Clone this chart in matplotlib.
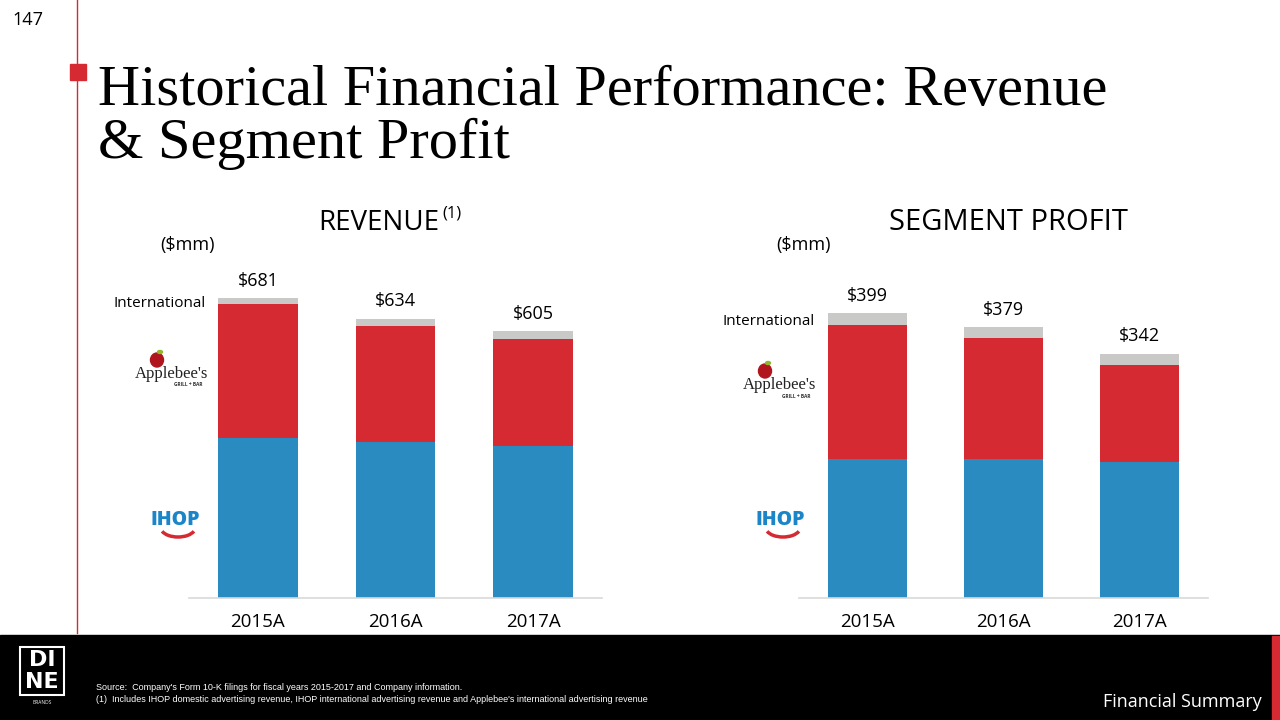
import matplotlib.pyplot as plt
from matplotlib.patches import Rectangle, Arc, Ellipse

# ---- data ($mm) ----
years = ["2015A", "2016A", "2017A"]
rev_ihop = [363, 354, 345]
rev_applebees = [304, 263, 242]
rev_intl = [14, 17, 18]
rev_total = [681, 634, 605]

sp_ihop = [195, 195, 190]
sp_applebees = [187, 169, 137]
sp_intl = [17, 15, 15]
sp_total = [399, 379, 342]

BLUE = "#2a8bc0"
RED = "#d62a33"
GRAY = "#c9c9c7"
SANS = ["Open Sans", "DejaVu Sans"]

W, H = 1280, 720


def fx(x):
    return x / W


def fy(y):
    return 1 - y / H


fig = plt.figure(figsize=(12.8, 7.2), dpi=100)
fig.patch.set_facecolor("white")


def stacked(ax_rect, ihop, appl, intl, total, ytop):
    ax = fig.add_axes(ax_rect)
    x = range(len(years))
    bottom2 = [a + b for a, b in zip(ihop, appl)]
    ax.bar(x, ihop, width=0.58, color=BLUE)
    ax.bar(x, appl, width=0.58, bottom=ihop, color=RED)
    ax.bar(x, intl, width=0.58, bottom=bottom2, color=GRAY)
    for i, t in enumerate(total):
        ax.annotate(f"${t}", (i, t), xytext=(0, 6), textcoords="offset points",
                    ha="center", va="bottom", fontsize=13, family=SANS, weight="medium")
    ax.annotate("International", (-0.29, total[0] - intl[0] / 2), xytext=(-9, -2),
                textcoords="offset points", ha="right", va="center",
                fontsize=11, family=SANS, annotation_clip=False)
    ax.set_xlim(-0.5, 2.5)
    ax.set_ylim(0, ytop)
    ax.set_xticks(list(x))
    ax.set_xticklabels(years, fontsize=13.5, family=SANS, weight="medium")
    ax.tick_params(axis="x", length=0, pad=11)
    ax.set_yticks([])
    for s in ("top", "left", "right"):
        ax.spines[s].set_visible(False)
    ax.spines["bottom"].set_color("#d9d9d9")
    ax.spines["bottom"].set_linewidth(1.2)
    return ax


ax_h = (598 - 250) / H
stacked([fx(189), fy(598), 413 / W, ax_h], rev_ihop, rev_applebees, rev_intl, rev_total, 348 / 0.4405)
stacked([fx(799), fy(598), 409 / W, ax_h], sp_ihop, sp_applebees, sp_intl, sp_total, 348 / 0.714)

# headers
fig.text(fx(318), fy(230), "REVENUE", fontsize=20, family=SANS, va="baseline", weight="medium")
fig.text(fx(442), fy(218), "(1)", fontsize=12, family=SANS, va="baseline")
fig.text(fx(1008), fy(230), "SEGMENT PROFIT", fontsize=21, family=SANS, va="baseline",
         ha="center", weight="medium")
fig.text(fx(160), fy(245), "($mm)", fontsize=13, family=SANS, va="center")
fig.text(fx(776), fy(245), "($mm)", fontsize=13, family=SANS, va="center")

# title + slide decorations
fig.text(fx(12), fy(20), "147", fontsize=13, family=SANS, va="center")
fig.add_artist(plt.Line2D([fx(77), fx(77)], [fy(0), fy(633)], color=RED, lw=1))
fig.add_artist(Rectangle((fx(70), fy(80)), 16 / W, 16 / H, color=RED, transform=fig.transFigure))
fig.text(fx(98), fy(105), "Historical Financial Performance: Revenue",
         fontsize=42, family="Liberation Serif", va="baseline")
fig.text(fx(98), fy(158), "& Segment Profit",
         fontsize=42, family="Liberation Serif", va="baseline")


# logos (approximate)
def applebees(cx, cy):
    fig.add_artist(Ellipse((fx(cx - 15), fy(cy - 12)), 13 / W, 14 / H, color="#b0141d",
                           transform=fig.transFigure))
    fig.add_artist(Ellipse((fx(cx - 12), fy(cy - 20)), 5 / W, 3 / H, color="#8fb82a",
                           transform=fig.transFigure))
    fig.text(fx(cx), fy(cy + 2), "Applebee's", fontsize=12, family="Liberation Serif",
             ha="center", va="center", color="#222222")
    fig.text(fx(cx + 16), fy(cy + 13), "GRILL + BAR", fontsize=3.5, family=SANS,
             ha="center", va="center", color="#333333", weight="bold")


def ihop(cx, cy):
    fig.text(fx(cx), fy(cy - 4), "IHOP", fontsize=14, family=SANS, weight="heavy",
             ha="center", va="center", color="#1a85c8")
    fig.add_artist(Arc((fx(cx + 3), fy(cy + 4)), 34 / W, 18 / H, theta1=200, theta2=340,
                       color=RED, lw=2.5, transform=fig.transFigure))


applebees(172, 372)
ihop(175, 524)
applebees(780, 383)
ihop(780, 524)

# footer
fig.add_artist(Rectangle((0, 0), 1, fy(635), color="black", transform=fig.transFigure))
fig.add_artist(Rectangle((fx(1272), 0), 8 / W, fy(636), color=RED, transform=fig.transFigure))
fig.add_artist(Rectangle((fx(20), fy(695)), 44 / W, 48 / H, fill=False, ec="white", lw=1.5,
                         transform=fig.transFigure))
fig.text(fx(42), fy(660), "DI", fontsize=16, family="DejaVu Sans", weight="bold", color="white",
         ha="center", va="center")
fig.text(fx(42), fy(682), "NE", fontsize=16, family="DejaVu Sans", weight="bold", color="white",
         ha="center", va="center")
fig.text(fx(42), fy(703), "BRANDS", fontsize=3.5, family=SANS, color="white",
         ha="center", va="center")
fig.text(fx(96), fy(687), "Source:  Company's Form 10-K filings for fiscal years 2015-2017 and Company information.",
         fontsize=6.5, family="Liberation Sans", color="white", va="center")
fig.text(fx(96), fy(699), "(1)  Includes IHOP domestic advertising revenue, IHOP international advertising revenue "
         "and Applebee's international advertising revenue",
         fontsize=6.5, family="Liberation Sans", color="white", va="center")
fig.text(fx(1262), fy(702), "Financial Summary", fontsize=13, family=SANS, color="white",
         ha="right", va="center", weight="medium")

fig.savefig("out.png", dpi=100)
